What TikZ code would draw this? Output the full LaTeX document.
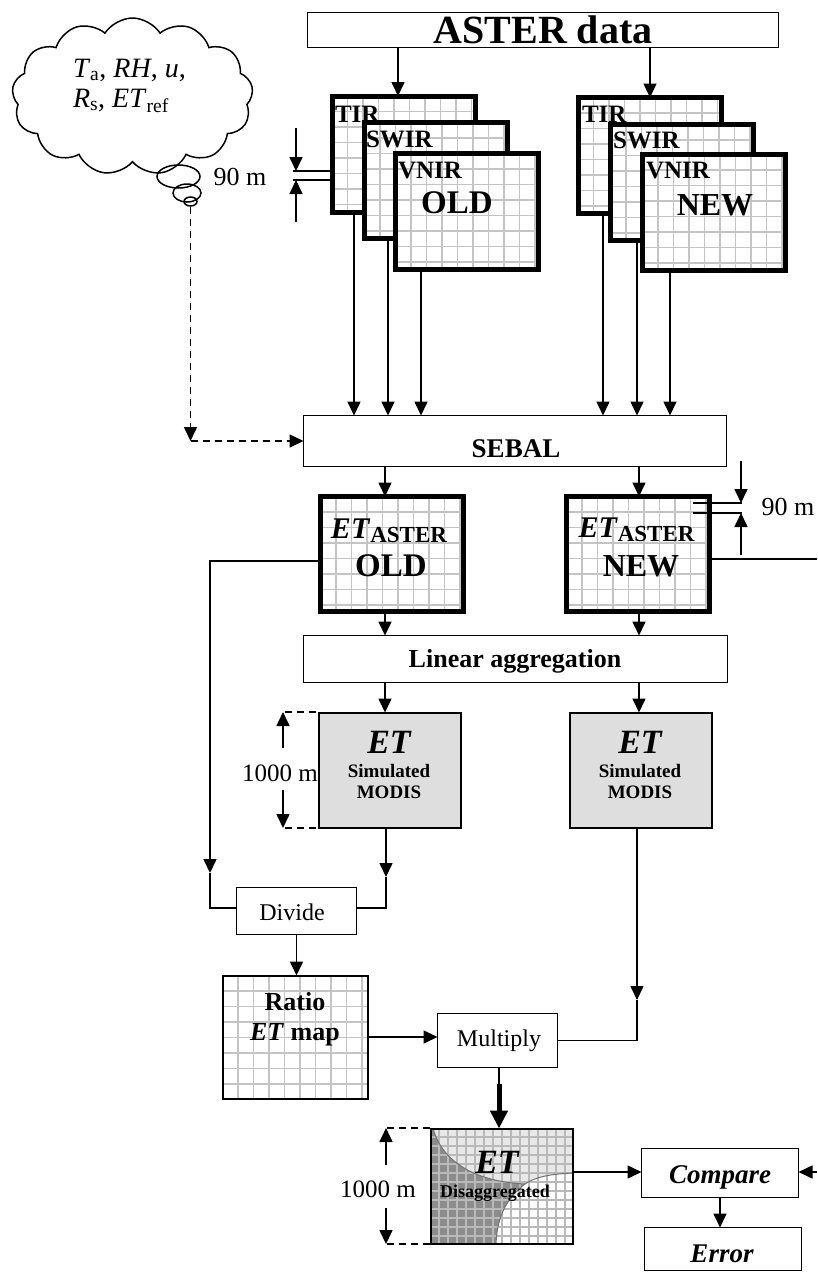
\documentclass[tikz,border=0pt]{standalone}
\usepackage{fontspec}
\setmainfont{Liberation Serif}
\usetikzlibrary{arrows.meta,shapes.symbols,shapes.geometric,calc}
\newcommand{\myfs}[1]{\fontsize{#1}{#1}\selectfont}
\definecolor{gridgray}{HTML}{C4C4C4}
\definecolor{simgray}{HTML}{DEDEDE}
\definecolor{dislight}{HTML}{E8E8E8}
\definecolor{disdark}{HTML}{8C8C8C}
\begin{document}
\begin{tikzpicture}[x=1pt,y=-1pt,
  conn/.style={line width=1.6pt},
  arr/.style={conn,-{Triangle[length=14pt,width=13pt]}},
  thickarr/.style={line width=5pt,-{Triangle[length=18pt,width=17pt]}},
  dashln/.style={dash pattern=on 7pt off 5pt},
  gridln/.style={gridgray,line width=1.4pt},
  gridpic/.style={path picture={
    \foreach \k in {1,...,10}{
      \draw[gridln] ([xshift=\k*#1]path picture bounding box.north west) -- ([xshift=\k*#1]path picture bounding box.south west);
      \draw[gridln] ([yshift=-\k*#1]path picture bounding box.north west) -- ([yshift=-\k*#1]path picture bounding box.north east);
    }}},
  thickbox/.style={draw,line width=5pt,fill=white,inner sep=0pt,outer sep=0pt,minimum width=143pt,minimum height=116pt,gridpic=15.5pt},
  thinbox/.style={draw,line width=1.5pt,fill=white,inner sep=0pt,outer sep=0pt},
  simbox/.style={draw,line width=2pt,fill=simgray,inner sep=0pt,outer sep=0pt,minimum width=142pt,minimum height=115pt},
  txt/.style={inner sep=0pt,outer sep=0pt,anchor=base},
  bandlbl/.style={inner sep=0pt,outer sep=0pt,anchor=base west,font={\myfs{25}\bfseries}},
]
\useasboundingbox (0,0) rectangle (817,1272);

% ---------- cloud ----------
\node[cloud,draw,line width=1.5pt,cloud puffs=13,cloud puff arc=115,aspect=1.55,minimum width=241pt,minimum height=157pt,inner sep=0pt] (cloud) at (132.5,96.5) {};
\node[txt,anchor=base west,font=\myfs{28}] (c1) at (73,77) {\textit{T}\textsubscript{a}, \textit{RH}, \textit{u},};
\node[txt,anchor=base west,font=\myfs{28}] (c2) at (73,107) {\textit{R}\textsubscript{s}, \textit{ET}\textsubscript{ref}};
\node[draw,ellipse,line width=1.5pt,minimum width=43pt,minimum height=23pt,inner sep=0pt] (bub1) at (178.5,176.5) {};
\node[draw,ellipse,line width=1.5pt,minimum width=28pt,minimum height=18pt,inner sep=0pt] (bub2) at (187,193) {};
\node[draw,ellipse,line width=1.5pt,minimum width=13pt,minimum height=9pt,inner sep=0pt] (bub3) at (190.5,201.5) {};

% ---------- ASTER data ----------
\node[thinbox,minimum width=471pt,minimum height=35pt] (aster) at (543,30) {};
\node[txt,font={\myfs{40}\bfseries}] (tAster) at (543,43) {ASTER data};

% ---------- OLD stack ----------
\node[thickbox] (TIRo) at (403.5,154) {};
\node[bandlbl] (tTIRo) at (335,122) {TIR};
\node[thickbox] (SWIRo) at (436,180.5) {};
\node[bandlbl] (tSWIRo) at (366,147) {SWIR};
\node[thickbox] (VNIRo) at (467,211.5) {};
\node[bandlbl] (tVNIRo) at (398,178) {VNIR};
\node[txt,font={\myfs{33}\bfseries}] (tOLDs) at (457,213) {OLD};

% ---------- NEW stack ----------
\node[thickbox] (TIRn) at (649.5,155.5) {};
\node[bandlbl] (tTIRn) at (582,122) {TIR};
\node[thickbox] (SWIRn) at (682,182.5) {};
\node[bandlbl] (tSWIRn) at (613,148) {SWIR};
\node[thickbox] (VNIRn) at (714,212.5) {};
\node[bandlbl] (tVNIRn) at (646,178) {VNIR};
\node[txt,font={\myfs{32}\bfseries}] (tNEWs) at (715,215) {NEW};

% 90 m (top left)
\draw[conn] (293,171) -- (TIRo.west |- 0,171);
\draw[conn] (293,180) -- (TIRo.west |- 0,180);
\draw[arr] (296,128) -- (296,171);
\draw[arr] (296,222) -- (296,180);
\node[txt,font=\myfs{26}] (t90a) at (240,185) {90 m};

% ---------- SEBAL ----------
\node[thinbox,minimum width=423pt,minimum height=51pt] (sebal) at (515,441) {};
\node[txt,font={\myfs{27}\bfseries}] (tSebal) at (516,457) {SEBAL};

% ---------- ET ASTER ----------
\node[thickbox,minimum height=115pt] (ETo) at (392,554) {};
\node[txt,font={\myfs{30}\bfseries}] (tETo1) at (389,538) {\textit{ET}\raisebox{-4pt}{\myfs{23}ASTER}};
\node[txt,font={\myfs{33}\bfseries}] (tETo2) at (391,576) {OLD};
\node[thickbox,minimum height=115pt] (ETn) at (638,554) {};
\node[txt,font={\myfs{30}\bfseries}] (tETn1) at (636.5,537) {\textit{ET}\raisebox{-4pt}{\myfs{23}ASTER}};
\node[txt,font={\myfs{32}\bfseries}] (tETn2) at (641,576) {NEW};

% 90 m (right)
\draw[conn] (693,503) -- (742,503);
\draw[conn] (693,513) -- (742,513);
\draw[arr] (741,461) -- (741,503);
\draw[arr] (741,555) -- (741,513);
\node[txt,font=\myfs{26}] (t90b) at (788,515) {90 m};

% ---------- Linear aggregation ----------
\node[thinbox,minimum width=424pt,minimum height=47pt] (linagg) at (515.5,659) {};
\node[txt,font={\myfs{26}\bfseries}] (tLin) at (515,667) {Linear aggregation};

% ---------- Simulated MODIS ----------
\node[simbox] (simo) at (389.5,770) {};
\node[txt,font={\myfs{34}\bfseries\itshape}] (tSimo1) at (389,753) {ET};
\node[txt,font={\myfs{19}\bfseries}] (tSimo2) at (389,777) {Simulated};
\node[txt,font={\myfs{19}\bfseries}] (tSimo3) at (389,798) {MODIS};
\node[simbox] (simn) at (640.5,770) {};
\node[txt,font={\myfs{34}\bfseries\itshape}] (tSimn1) at (640,753) {ET};
\node[txt,font={\myfs{19}\bfseries}] (tSimn2) at (640,777) {Simulated};
\node[txt,font={\myfs{19}\bfseries}] (tSimn3) at (640,798) {MODIS};

% 1000 m (simulated)
\draw[conn,dashln] (285,712) -- (318,712);
\draw[conn,dashln] (285,828) -- (318,828);
\draw[arr] (283,748) -- (283,712);
\draw[arr] (283,790) -- (283,828);
\node[txt,font=\myfs{25}] (t1000a) at (280,781) {1000 m};

% ---------- Divide / Ratio / Multiply ----------
\node[thinbox,minimum width=120pt,minimum height=47pt] (divide) at (296.5,911) {};
\node[txt,font=\myfs{24}] (tDiv) at (292,920) {Divide};
\node[draw,line width=2pt,fill=white,inner sep=0pt,outer sep=0pt,gridpic=15.5pt,minimum width=145pt,minimum height=123pt] (ratio) at (295,1037) {};
\node[txt,font={\myfs{26}\bfseries}] (tRat1) at (295,1010) {Ratio};
\node[txt,font={\myfs{26}\bfseries}] (tRat2) at (295,1040) {\textit{ET} map};
\node[thinbox,minimum width=120pt,minimum height=54pt] (mult) at (497.5,1040.5) {};
\node[txt,font=\myfs{24}] (tMult) at (499,1046) {Multiply};

% ---------- Disaggregated ----------
\begin{scope}
  \clip (430,1128) rectangle (573,1244);
  \fill[dislight] (430,1128) rectangle (573,1244);
  \fill[disdark] (430,1128) -- (433,1128) .. controls (443,1166) and (482,1182) .. (525,1184)
     .. controls (508,1197) and (497,1215) .. (496,1244) -- (430,1244) -- cycle;
  \fill[white] (573,1173) .. controls (550,1174) and (535,1177) .. (525,1184)
     .. controls (508,1197) and (497,1215) .. (496,1244) -- (573,1244) -- cycle;
  \foreach \k in {1,...,16} {\draw[gray!55,line width=1.2pt] ({430+\k*9},1128) -- ({430+\k*9},1244);}
  \foreach \k in {1,...,13} {\draw[gray!55,line width=1.2pt] (430,{1128+\k*9}) -- (573,{1128+\k*9});}
  \draw[gray!90!black,line width=1pt] (433,1128) .. controls (443,1166) and (482,1182) .. (525,1184);
  \draw[gray!90!black,line width=1pt] (573,1173) .. controls (550,1174) and (535,1177) .. (525,1184)
     .. controls (508,1197) and (497,1215) .. (496,1244);
\end{scope}
\node[draw,line width=2pt,inner sep=0pt,outer sep=0pt,minimum width=142pt,minimum height=115pt] (dis) at (501.5,1186) {};
\node[txt,font={\myfs{34}\bfseries\itshape}] (tDis1) at (497,1173) {ET};
\node[txt,font={\myfs{18}\bfseries}] (tDis2) at (495,1197) {Disaggregated};

% 1000 m (disaggregated)
\draw[conn,dashln] (387,1128) -- (430,1128);
\draw[conn,dashln] (387,1244) -- (430,1244);
\draw[arr] (386,1165) -- (386,1128);
\draw[arr] (386,1208) -- (386,1244);
\node[txt,font=\myfs{25}] (t1000b) at (378,1197) {1000 m};

% ---------- Compare / Error ----------
\node[thinbox,minimum width=157pt,minimum height=49pt] (cmp) at (720,1173) {};
\node[txt,font={\myfs{27}\bfseries\itshape}] (tCmp) at (720,1183) {Compare};
\node[thinbox,minimum width=157pt,minimum height=43pt] (err) at (723,1249) {};
\node[txt,font={\myfs{27}\bfseries\itshape}] (tErr) at (722,1262) {Error};

% ---------- lane coordinates ----------
\coordinate (La) at (398,0);
\coordinate (Lb) at (650,0);
\coordinate (L1) at (354,0);
\coordinate (L2) at (388,0);
\coordinate (L3) at (421,0);
\coordinate (L4) at (603,0);
\coordinate (L5) at (637,0);
\coordinate (L6) at (670,0);
\coordinate (Lo) at (385,0);
\coordinate (Ln) at (639,0);
\coordinate (dc) at (190.5,441);
\coordinate (yA) at (0,561);
\coordinate (yD) at (0,908);
\coordinate (tipL) at (210,873);
\coordinate (tipR) at (386,877);
\coordinate (tipS) at (637,1000);
\coordinate (mthick) at (499,1084);
\coordinate (offR1) at (817,559);
\coordinate (offR2) at (817,1172);

% ---------- connectors ----------
\draw[arr] (aster.south -| La) -- (TIRo.north -| La);
\draw[arr] (aster.south -| Lb) -- (TIRn.north -| Lb);
\draw[arr] (TIRo.south -| L1) -- (sebal.north -| L1);
\draw[arr] (SWIRo.south -| L2) -- (sebal.north -| L2);
\draw[arr] (VNIRo.south -| L3) -- (sebal.north -| L3);
\draw[arr] (TIRn.south -| L4) -- (sebal.north -| L4);
\draw[arr] (SWIRn.south -| L5) -- (sebal.north -| L5);
\draw[arr] (VNIRn.south -| L6) -- (sebal.north -| L6);
\draw[arr,dashln] (bub3.south) -- (dc);
\draw[arr,dashln] (dc) -- (sebal.west |- dc);
\draw[arr] (sebal.south -| Lo) -- (ETo.north -| Lo);
\draw[arr] (sebal.south -| Ln) -- (ETn.north -| Ln);
\draw[arr] (ETo.south -| Lo) -- (linagg.north -| Lo);
\draw[arr] (ETn.south -| Ln) -- (linagg.north -| Ln);
\draw[arr] (linagg.south -| Lo) -- (simo.north -| Lo);
\draw[arr] (linagg.south -| Ln) -- (simn.north -| Ln);
\draw[arr] (ETo.west |- yA) -| (tipL);
\draw[conn] (tipL) -- (tipL |- yD) -- (divide.west |- yD);
\draw[arr] (simo.south -| tipR) -- (tipR);
\draw[conn] (tipR) -- (tipR |- yD) -- (divide.east |- yD);
\draw[arr] (divide.south) -- (divide.south |- ratio.north);
\draw[arr] (ratio.east) -- (ratio.east -| mult.west);
\draw[arr] (simn.south -| tipS) -- (tipS);
\draw[conn] (tipS) -- (tipS |- mult.east) -- (mult.east);
\draw[conn] (mult.south -| mthick) -- (mthick);
\draw[thickarr] (mthick) -- (dis.north -| mthick);
\draw[arr] (dis.east |- offR2) -- (cmp.west |- offR2);
\draw[arr] (offR2) -- (cmp.east |- offR2);
\draw[arr] (cmp.south) -- (cmp.south |- err.north);
\draw[conn] (ETn.east |- offR1) -- (offR1);
\end{tikzpicture}
\end{document}
